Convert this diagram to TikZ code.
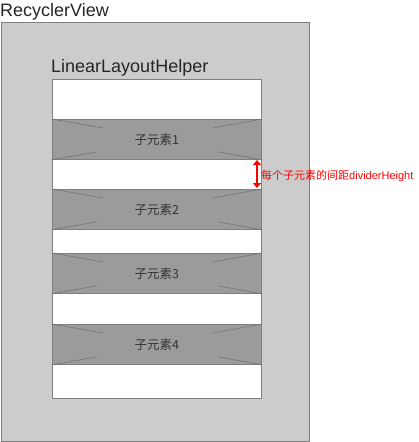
\documentclass[tikz,border=0pt]{standalone}
\usepackage{fontspec}
\setmainfont{Liberation Sans}
\newfontfamily\cjk{Noto Sans CJK SC}
\usetikzlibrary{arrows.meta}

\definecolor{boxgray}{HTML}{CCCCCC}
\definecolor{itemgray}{HTML}{9B9B9B}
\definecolor{edgegray}{HTML}{7F7F7F}
\definecolor{crossgray}{HTML}{6E6E6E}
\definecolor{textgray}{HTML}{333333}

\tikzset{
  panel/.style = {draw=edgegray, line width=0.8pt},
  item/.style = {draw=edgegray, fill=itemgray, line width=0.8pt, anchor=north west,
    minimum width=209pt, minimum height=40pt, inner sep=0pt, text=textgray,
    font=\fontsize{12.5}{14}\selectfont\cjk},
  cross/.style = {draw=crossgray, line width=0.5pt},
  title/.style = {anchor=base west, inner sep=0pt, text=black!85,
    font=\fontsize{18}{20}\selectfont},
  gap/.style = {red, line width=1.3pt, {Triangle[length=5pt,width=8pt]}-{Triangle[length=5pt,width=8pt]}}
}

\begin{document}
\begin{tikzpicture}[x=1pt, y=-1pt]
\useasboundingbox (0,0) rectangle (418,442);

\draw[panel, fill=boxgray] (1,22) rectangle (309,441);
\node[title] (rv) at (0,16) {RecyclerView};

\draw[panel, fill=white] (52,79) rectangle (261,398);
\node[title] (llh) at (51,72) {LinearLayoutHelper};

\foreach \n/\y in {1/119, 2/189, 3/253, 4/324} {
  \node[item] (e\n) at (52,\y) {子元素\n};
  \draw[cross] (e\n.north west) -- ++(51,9);
  \draw[cross] (e\n.south west) -- ++(45,-8);
  \draw[cross] (e\n.north east) -- ++(-49,9);
  \draw[cross] (e\n.south east) -- ++(-44,-8);
}

% divider between the first two items
\coordinate (gtop) at (257,160);
\coordinate (gbot) at (257,188);
\draw[gap] (gtop) -- (gbot);
\node[anchor=base west, inner sep=0pt, red, font=\fontsize{11}{13}\selectfont] (dh) at (261,179)
  {{\cjk 每个子元素的间距}dividerHeight};
\end{tikzpicture}
\end{document}
